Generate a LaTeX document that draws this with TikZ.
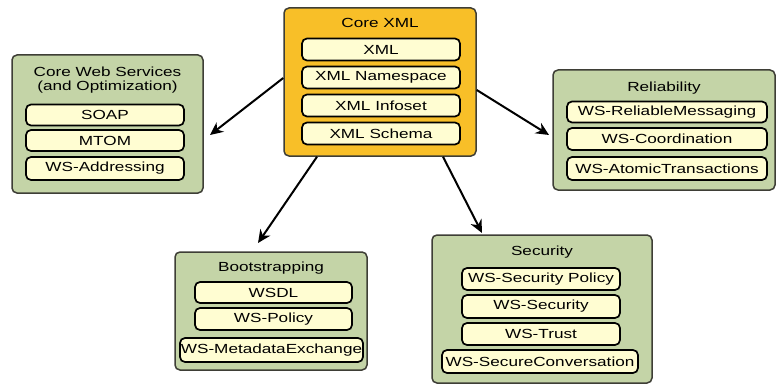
\documentclass[tikz,border=0pt]{standalone}
\usepackage{fontspec}
\setmainfont{Liberation Sans}[FakeStretch=1.3]
\usetikzlibrary{arrows.meta}
\definecolor{coreorange}{HTML}{F8BF28}
\definecolor{groupgreen}{HTML}{C4D4A7}
\definecolor{itemcream}{HTML}{FFFDD2}
\definecolor{frameedge}{HTML}{3E3E36}
\tikzset{
  groupbox/.style={draw=frameedge, line width=1.5pt, rounded corners=5pt, fill=groupgreen, inner sep=0pt},
  corebox/.style={groupbox, fill=coreorange},
  itembox/.style={draw=black, line width=1.7pt, rounded corners=5pt, fill=itemcream,
    minimum height=22pt, inner sep=0pt, font=\fontsize{13.2}{14.5}\selectfont},
  title/.style={inner sep=0pt, font=\fontsize{13.2}{14.5}\selectfont, align=center},
  arr/.style={line width=2pt, -{Stealth[length=13pt,width=12pt]}}
}
\begin{document}
\begin{tikzpicture}[x=1pt,y=-1pt]
\useasboundingbox[fill=white] (0,0) rectangle (776,385);

% Core XML
\node[corebox, minimum width=192pt, minimum height=148pt] (core) at (380,82) {};
\node[title] (coreT) at (380,23) {Core XML};
\node[itembox, minimum width=158pt] (xml) at (381,49.5) {XML};
\node[itembox, minimum width=158pt] (xmlns) at (381,77.5) {XML Namespace};
\node[itembox, minimum width=158pt] (infoset) at (381,105.5) {XML Infoset};
\node[itembox, minimum width=158pt] (schema) at (381,133.5) {XML Schema};

% Core Web Services
\node[groupbox, minimum width=191pt, minimum height=138pt] (cws) at (107.5,124) {};
\node[title] (cwsT) at (107.5,80) {Core Web Services\\(and Optimization)};
\node[itembox, minimum width=158pt, minimum height=21pt] (soap) at (105,115) {SOAP};
\node[itembox, minimum width=158pt, minimum height=21pt] (mtom) at (105,140.5) {MTOM};
\node[itembox, minimum width=158pt, minimum height=23pt] (wsa) at (105,168.5) {WS-Addressing};

% Reliability
\node[groupbox, minimum width=222pt, minimum height=120pt] (rel) at (664,130) {};
\node[title] (relT) at (664,88) {Reliability};
\node[itembox, minimum width=200pt, minimum height=21pt] (wsrm) at (667,112) {WS-ReliableMessaging};
\node[itembox, minimum width=200pt] (wscoord) at (667,139) {WS-Coordination};
\node[itembox, minimum width=200pt, minimum height=23pt] (wsat) at (667,168.5) {WS-AtomicTransactions};

% Bootstrapping
\node[groupbox, minimum width=192pt, minimum height=118pt] (boot) at (271,311) {};
\node[title] (bootT) at (271,268) {Bootstrapping};
\node[itembox, minimum width=157pt, minimum height=21pt] (wsdl) at (273.5,292.5) {WSDL};
\node[itembox, minimum width=157pt] (wspol) at (273.5,319) {WS-Policy};
\node[itembox, minimum width=183pt, minimum height=24pt] (wsmex) at (271.5,350) {WS-MetadataExchange};

% Security
\node[groupbox, minimum width=220pt, minimum height=148pt] (sec) at (542,309) {};
\node[title] (secT) at (542,252) {Security};
\node[itembox, minimum width=158pt] (wssp) at (541,279) {WS-Security Policy};
\node[itembox, minimum width=158pt, minimum height=23pt] (wss) at (541,306.5) {WS-Security};
\node[itembox, minimum width=158pt] (wst) at (541,334) {WS-Trust};
\node[itembox, minimum width=196pt, minimum height=23pt] (wssc) at (540,361.5) {WS-SecureConversation};

% Dependency arrows out of Core XML
\coordinate (toCws) at (210,135);
\coordinate (toRel) at (549,135);
\coordinate (toBoot) at (258,243);
\coordinate (toSec) at (482,233);
\draw[arr] (core.west |- 0,78) -- (toCws);
\draw[arr] (core.east |- 0,90) -- (toRel);
\draw[arr] (core.south -| 317,0) -- (toBoot);
\draw[arr] (core.south -| 443,0) -- (toSec);
\end{tikzpicture}
\end{document}
